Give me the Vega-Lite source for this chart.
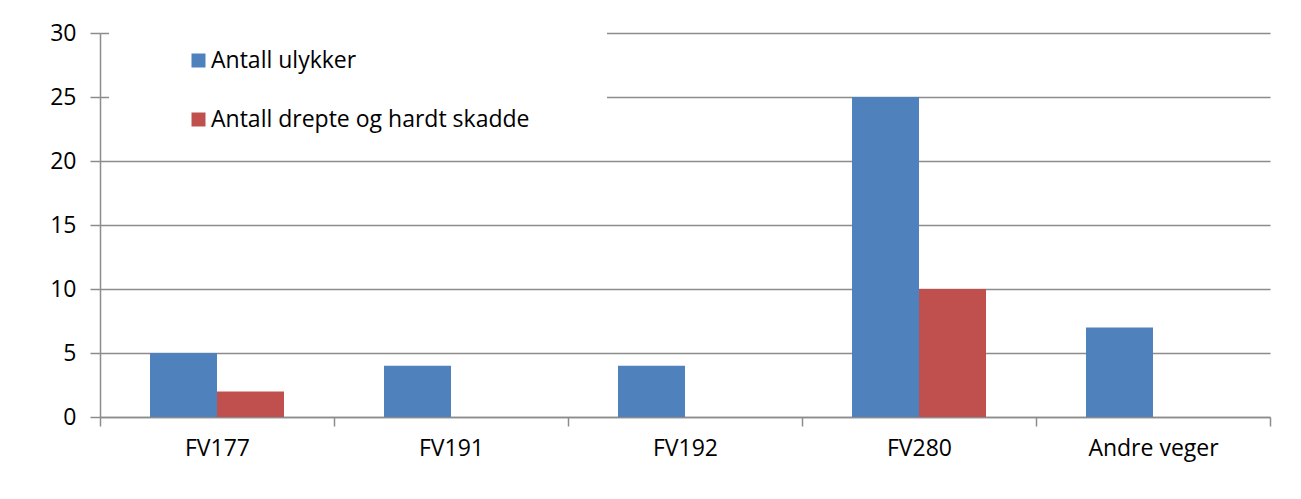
{
  "$schema": "https://vega.github.io/schema/vega-lite/v6.json",
  "autosize": {"type": "none"},
  "padding": {"left": 100, "top": 33, "right": 31, "bottom": 82},
  "width": 1170,
  "height": 384,
  "background": "white",
  "config": {
    "font": "Open Sans",
    "view": {"stroke": null}
  },
  "data": {
    "values": [
      {"veg": "FV177", "serie": "Antall ulykker", "antall": 5},
      {"veg": "FV177", "serie": "Antall drepte og hardt skadde", "antall": 2},
      {"veg": "FV191", "serie": "Antall ulykker", "antall": 4},
      {"veg": "FV191", "serie": "Antall drepte og hardt skadde", "antall": 0},
      {"veg": "FV192", "serie": "Antall ulykker", "antall": 4},
      {"veg": "FV192", "serie": "Antall drepte og hardt skadde", "antall": 0},
      {"veg": "FV280", "serie": "Antall ulykker", "antall": 25},
      {"veg": "FV280", "serie": "Antall drepte og hardt skadde", "antall": 10},
      {"veg": "Andre veger", "serie": "Antall ulykker", "antall": 7},
      {"veg": "Andre veger", "serie": "Antall drepte og hardt skadde", "antall": 0}
    ]
  },
  "mark": {"type": "bar"},
  "encoding": {
    "x": {
      "field": "veg",
      "type": "nominal",
      "sort": ["FV177", "FV191", "FV192", "FV280", "Andre veger"],
      "scale": {"paddingInner": 0, "paddingOuter": 0},
      "axis": {
        "title": null,
        "labelAngle": 0,
        "labelFontSize": 23,
        "labelColor": "black",
        "labelPadding": 11,
        "tickBand": "extent",
        "tickSize": 9,
        "tickColor": "#8c8c8c",
        "tickWidth": 1.5,
        "domainColor": "#8c8c8c",
        "domainWidth": 1.5,
        "grid": false
      }
    },
    "xOffset": {
      "field": "serie",
      "type": "nominal",
      "sort": ["Antall ulykker", "Antall drepte og hardt skadde"],
      "scale": {"paddingInner": 0, "paddingOuter": 0.746}
    },
    "y": {
      "field": "antall",
      "type": "quantitative",
      "scale": {"domain": [0, 30], "nice": false},
      "axis": {
        "title": null,
        "values": [0, 5, 10, 15, 20, 25, 30],
        "labelFontSize": 23,
        "labelColor": "black",
        "labelPadding": 14,
        "tickSize": 10,
        "tickColor": "#8c8c8c",
        "tickWidth": 1.5,
        "domainColor": "#8c8c8c",
        "domainWidth": 1.5,
        "gridColor": "#8c8c8c",
        "gridWidth": 1.5,
        "gridOpacity": 1
      }
    },
    "color": {
      "field": "serie",
      "type": "nominal",
      "sort": ["Antall ulykker", "Antall drepte og hardt skadde"],
      "scale": {
        "domain": ["Antall ulykker", "Antall drepte og hardt skadde"],
        "range": ["#4F81BD", "#C0504D"]
      },
      "legend": {
        "orient": "none",
        "legendX": 9,
        "legendY": -2,
        "title": "\u00a0",
        "titleOrient": "right",
        "titlePadding": 60,
        "titleFontSize": 22,
        "fillColor": "white",
        "strokeColor": null,
        "padding": 18,
        "symbolType": "square",
        "symbolSize": 196,
        "symbolStrokeWidth": 0,
        "symbolOffset": 60,
        "labelOffset": 1,
        "labelFontSize": 23,
        "labelColor": "black",
        "labelLimit": 500,
        "rowPadding": 35
      }
    }
  }
}
